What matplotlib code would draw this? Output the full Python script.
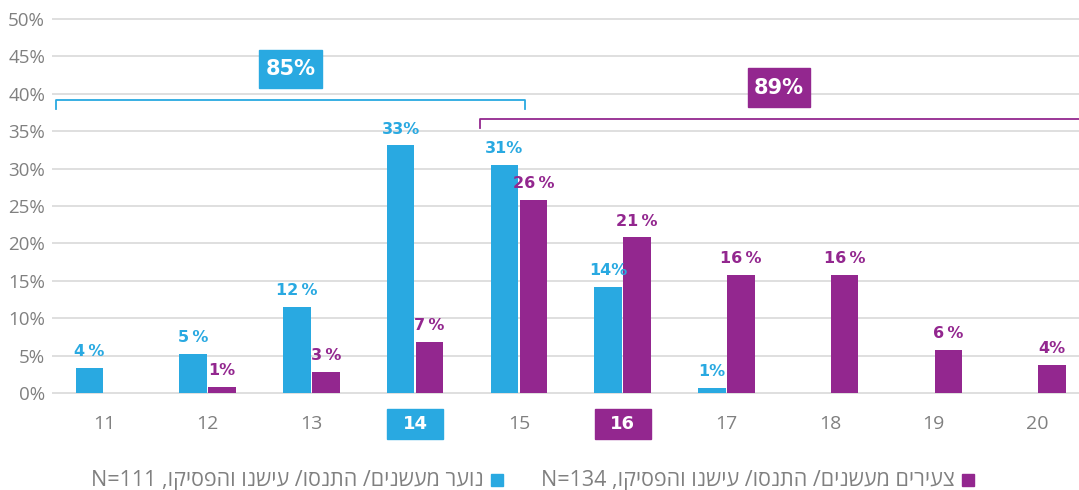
import matplotlib
matplotlib.use("Agg")
import matplotlib.pyplot as plt
from matplotlib.patches import Rectangle
import matplotlib.transforms as mtransforms
import numpy as np

plt.rcParams['font.family'] = ['Open Sans', 'DejaVu Sans']

# ---------------- data ----------------
ages = ["11", "12", "13", "14", "15", "16", "17", "18", "19", "20"]
youth_vals = [3.4, 5.2, 11.5, 33.1, 30.5, 14.2, 0.7, np.nan, np.nan, np.nan]
young_adult_vals = [np.nan, 0.8, 2.8, 6.8, 25.8, 20.8, 15.8, 15.8, 5.8, 3.8]
youth_labels = ["4\u2009%", "5\u2009%", "12\u2009%", "33%", "31%", "14%", "1%", "", "", ""]
young_adult_labels = ["", "1%", "3\u2009%", "7\u2009%", "26\u2009%", "21\u2009%", "16\u2009%", "16\u2009%", "6\u2009%", "4%"]
yticks = [0, 5, 10, 15, 20, 25, 30, 35, 40, 45, 50]
youth_total = "85%"
young_adult_total = "89%"
youth_series = "נוער מעשנים/ התנסו/ עישנו והפסיקו,"
youth_n = "N=111"
young_adult_series = "צעירים מעשנים/ התנסו/ עישנו והפסיקו,"
young_adult_n = "N=134"
highlight = {"14": "youth", "16": "adult"}

BLUE = "#29A9E1"
PURPLE = "#93278F"
GREY = "#808080"
GRID = "#dcdcdc"
LBL_FONT = ["DejaVu Sans"]


def visual(heb, n):
    # matplotlib has no bidi support: give the glyphs in visual order
    return n + " " + heb[::-1]


fig = plt.figure(figsize=(10.79, 4.90), dpi=100)
ax = fig.add_axes([52 / 1079, (490 - 395.2) / 490, (1079 - 52) / 1079, 378.4 / 490])

x = np.arange(len(ages))
w = 0.265
off = 0.14
ax.bar(x - off, youth_vals, w, color=BLUE, zorder=3)
ax.bar(x + off, young_adult_vals, w, color=PURPLE, zorder=3)

for xi, v, lab in zip(x, youth_vals, youth_labels):
    if lab:
        ax.annotate(lab, (xi - off, v), xytext=(0, 8.5), textcoords="offset points",
                    ha="center", va="baseline", color=BLUE, fontsize=11.5,
                    fontweight="bold", family=LBL_FONT)
for xi, v, lab in zip(x, young_adult_vals, young_adult_labels):
    if lab:
        ax.annotate(lab, (xi + off, v), xytext=(0, 8.5), textcoords="offset points",
                    ha="center", va="baseline", color=PURPLE, fontsize=11.5,
                    fontweight="bold", family=LBL_FONT)

ax.set_xlim(-0.5, 9.40)
ax.set_ylim(-0.3, 50.3)
ax.set_yticks(yticks)
ax.set_yticklabels([f"{t}%" for t in yticks])
ax.tick_params(axis="y", length=0, pad=5, labelsize=13.5, labelcolor=GREY)
ax.set_xticks([])
for s in ax.spines.values():
    s.set_visible(False)
for t in yticks:
    ax.axhline(t, color=GRID, lw=1.3, zorder=1)

# x labels with highlight boxes
trans = mtransforms.blended_transform_factory(ax.transData, ax.transAxes)
for xi, a in zip(x, ages):
    if a in highlight:
        col = BLUE if highlight[a] == "youth" else PURPLE
        ax.add_patch(Rectangle((xi - 0.27, -0.1157), 0.54, 0.0792, transform=trans,
                               color=col, clip_on=False, zorder=2))
        ax.text(xi, -0.076, a, transform=trans, ha="center", va="center",
                color="white", fontsize=13, fontweight="bold", family=LBL_FONT)
    else:
        ax.text(xi, -0.076, a, transform=trans, ha="center", va="center",
                color=GREY, fontsize=14)

# brackets
ax.plot([-0.463, -0.463, 4.06, 4.06], [38.0, 39.2, 39.2, 38.0], color=BLUE, lw=1.3,
        clip_on=False, zorder=4)
ax.plot([3.625, 3.625, 9.6], [35.4, 36.6, 36.6], color=PURPLE, lw=1.3,
        clip_on=False, zorder=4)

# total boxes
for (x0, x1, y0, y1), txt, col in [((1.50, 2.10, 40.8, 45.9), youth_total, BLUE),
                                     ((6.21, 6.81, 38.2, 43.4), young_adult_total, PURPLE)]:
    ax.add_patch(Rectangle((x0, y0), x1 - x0, y1 - y0, color=col, zorder=5, clip_on=False))
    ax.text((x0 + x1) / 2, (y0 + y1) / 2, txt, ha="center", va="center", color="white",
            fontsize=15, fontweight="bold", zorder=6, family=LBL_FONT)


# legend (manual, RTL)
def fx(px):
    return px / 1079


def fy(py):
    return 1 - py / 490


fig.patches.append(Rectangle((fx(491), fy(486)), 12 / 1079, 12 / 490, transform=fig.transFigure,
                             color=BLUE))
fig.text(fx(484), fy(480), visual(youth_series, youth_n), ha="right", va="center",
         color=GREY, fontsize=15.5)
fig.patches.append(Rectangle((fx(962), fy(486)), 12 / 1079, 12 / 490, transform=fig.transFigure,
                             color=PURPLE))
fig.text(fx(955), fy(480), visual(young_adult_series, young_adult_n), ha="right", va="center",
         color=GREY, fontsize=15.5)

fig.savefig("out.png", dpi=100)
